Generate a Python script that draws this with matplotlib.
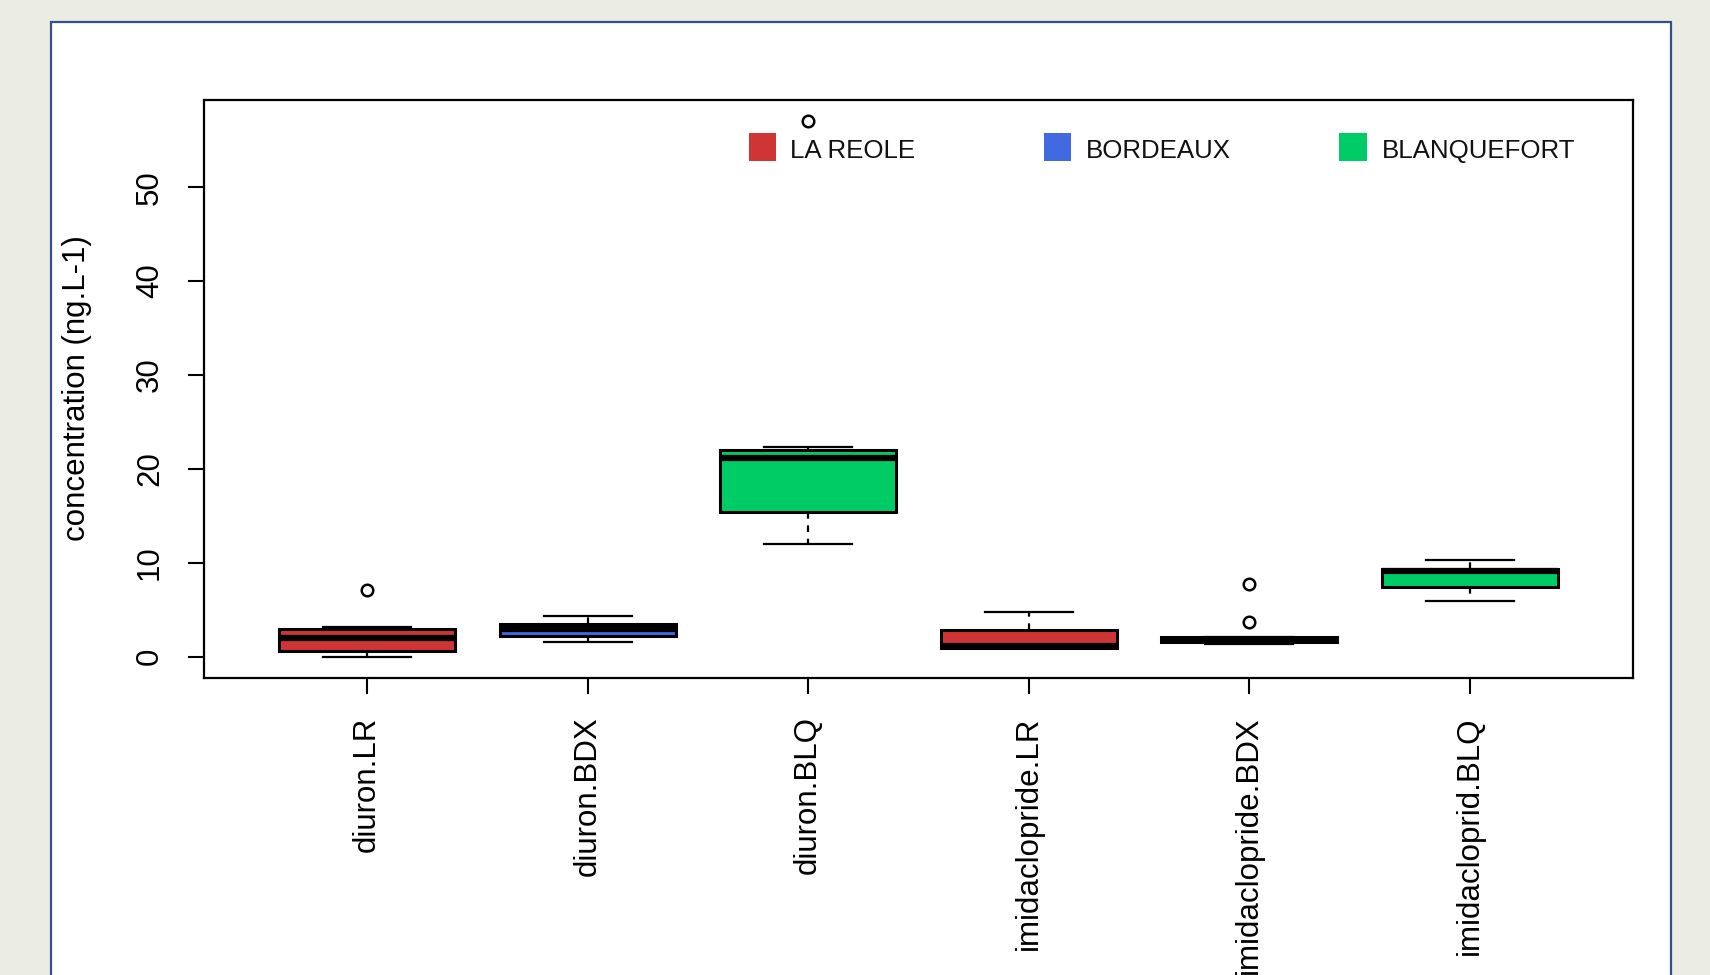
import matplotlib
matplotlib.use("Agg")
import matplotlib.pyplot as plt
from matplotlib.patches import Rectangle

# ---- data ----
categories = ["diuron.LR", "diuron.BDX", "diuron.BLQ",
              "imidaclopride.LR", "imidaclopride.BDX", "imidacloprid.BLQ"]
whislo = [0.0, 1.6, 12.0, 0.96, 1.35, 5.9]
q1 = [0.6, 2.2, 15.4, 0.96, 1.55, 7.4]
med = [1.95, 2.95, 21.2, 1.12, 1.8, 9.15]
q3 = [2.9, 3.45, 22.0, 2.8, 2.05, 9.35]
whishi = [3.1, 4.35, 22.3, 4.75, 2.05, 10.3]
fliers = [[7.1], [], [57.0], [], [3.7, 7.7], []]
sites = ["LA REOLE", "BORDEAUX", "BLANQUEFORT"]
site_colors = ["#D03535", "#4169E1", "#00CC66"]
box_site = [0, 1, 2, 0, 1, 2]
yticks = [0, 10, 20, 30, 40, 50]

plt.rcParams['font.family'] = ['Liberation Sans', 'DejaVu Sans']

fig = plt.figure(figsize=(17.1, 9.75), dpi=100)
fig.patch.set_facecolor("#EBEDE5")

# white panel with blue border
panel = Rectangle((51 / 1710, -0.05), (1671 - 51) / 1710, (975 - 22) / 975 + 0.05,
                  transform=fig.transFigure, facecolor="white",
                  edgecolor="#34508C", linewidth=1.6, zorder=-10)
fig.patches.append(panel)

ax = fig.add_axes([204 / 1710, (975 - 678) / 975, (1633 - 204) / 1710, (678 - 100) / 975])
ax.set_facecolor("white")

stats = []
for i in range(len(categories)):
    stats.append(dict(whislo=whislo[i], q1=q1[i], med=med[i], q3=q3[i],
                      whishi=whishi[i], fliers=fliers[i], label=categories[i]))

positions = list(range(1, len(categories) + 1))
bp = ax.bxp(stats, positions=positions, widths=0.8, capwidths=0.4,
            patch_artist=True, showfliers=True,
            boxprops=dict(linewidth=2.2, edgecolor="black"),
            medianprops=dict(color="black", linewidth=4.5, solid_capstyle="butt"),
            whiskerprops=dict(color="black", linewidth=1.6, linestyle=(0, (3, 3))),
            capprops=dict(color="black", linewidth=1.6),
            flierprops=dict(marker="o", markerfacecolor="none", markeredgecolor="black",
                            markersize=8.3, markeredgewidth=1.8))
for patch, s in zip(bp["boxes"], box_site):
    patch.set_facecolor(site_colors[s])

ax.set_xlim(0.26, 6.74)
ax.set_ylim(-2.28, 59.28)

ax.set_yticks(yticks)
ax.set_yticklabels([str(t) for t in yticks], rotation=90, va="center", fontsize=22.5)
ax.set_xticks(positions)
ax.set_xticklabels(categories, rotation=90, ha="center", va="top", fontsize=22.5)
ax.tick_params(axis="both", direction="out", length=11.5, width=1.5, colors="black")
ax.tick_params(axis="y", pad=16.5)
ax.tick_params(axis="x", pad=16)
for sp in ax.spines.values():
    sp.set_linewidth(1.6)
    sp.set_color("black")

ax.set_ylabel("concentration (ng.L-1)", fontsize=22.5)
ax.yaxis.set_label_coords((92 - 204) / 1429, (678 - 356 * 1.0906) / 578)

# legend (manual, horizontal)
sq_x = [0.3815, 0.5876, 0.7945]
tx_x = [0.4098, 0.6174, 0.8242]
for k in range(len(sites)):
    ax.add_patch(Rectangle((sq_x[k], 0.8938), 0.0191, 0.0491, transform=ax.transAxes,
                           facecolor=site_colors[k], edgecolor="none", clip_on=False))
    ax.text(tx_x[k], 0.911, sites[k], transform=ax.transAxes, ha="left", va="center",
            fontsize=18.6, color="#111111")

fig.savefig("out.png", dpi=100, facecolor=fig.get_facecolor())
